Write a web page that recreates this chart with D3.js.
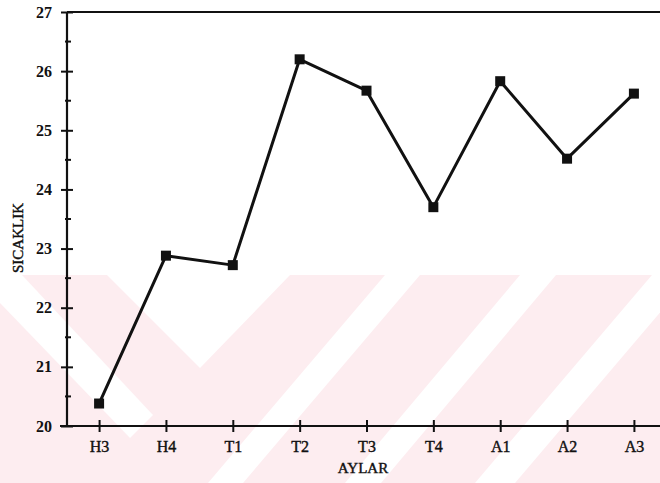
<!DOCTYPE html>
<html>
<head>
<meta charset="utf-8">
<script src="https://cdn.jsdelivr.net/npm/d3@7"></script>
<style>
  body { margin: 0; background: #fff; }
  text { font-family: "Liberation Serif", "DejaVu Serif", serif; fill: #111; }
</style>
</head>
<body>
<div id="svg-area"></div>
<script>
var svgWidth = 660;
var svgHeight = 483;

// months and temperature readings
var aylar = ["H3", "H4", "T1", "T2", "T3", "T4", "A1", "A2", "A3"];
var sicaklik = [20.38, 22.88, 22.72, 26.2, 25.67, 23.7, 25.83, 24.52, 25.62];
var yTicks = [20, 21, 22, 23, 24, 25, 26, 27];
var yMinor = [20.5, 21.5, 22.5, 23.5, 24.5, 25.5, 26.5];

var svg = d3.select("#svg-area")
  .append("svg")
  .attr("width", svgWidth)
  .attr("height", svgHeight);

// faint watermark in the lower part of the page
var wm = svg.append("g");
wm.append("rect")
  .attr("x", 0).attr("y", 275)
  .attr("width", svgWidth).attr("height", svgHeight - 275)
  .attr("fill", "#fdedf0");
var whiteShapes = [
  [[0, 275], [22, 275], [153, 415], [130, 438], [0, 303]],
  [[107, 275], [290, 275], [200, 368]],
  [[385, 275], [420, 275], [243, 483], [208, 483]],
  [[520, 275], [556, 275], [381, 483], [345, 483]],
  [[652, 275], [692, 275], [515, 483], [475, 483]]
];
wm.selectAll("polygon")
  .data(whiteShapes)
  .enter()
  .append("polygon")
  .attr("points", d => d.map(p => p.join(",")).join(" "))
  .attr("fill", "#fff");

var plotLeft = 67, plotTop = 12, plotBottom = 426;

var xScale = d3.scalePoint()
  .domain(aylar)
  .range([plotLeft, 666])
  .padding(0.48);

var yScale = d3.scaleLinear()
  .domain([20, 27])
  .range([plotBottom, plotTop]);

// frame top line
svg.append("line")
  .attr("x1", plotLeft).attr("x2", svgWidth)
  .attr("y1", plotTop).attr("y2", plotTop)
  .attr("stroke", "#111").attr("stroke-width", 2.2);

// y axis
var yAxis = svg.append("g")
  .attr("transform", "translate(" + plotLeft + ",0)")
  .call(d3.axisLeft(yScale).tickValues(yTicks).tickSize(6).tickPadding(9).tickFormat(d3.format("d")));
yAxis.select(".domain").attr("stroke", "#111").attr("stroke-width", 2.2).attr("d", "M0," + plotTop + "V" + plotBottom);
yAxis.selectAll(".tick line").attr("x1", -6).attr("x2", 6).attr("stroke", "#111").attr("stroke-width", 2);
yAxis.selectAll(".tick text")
  .attr("font-size", 16).attr("font-weight", "bold")
  .style("font-family", "'Liberation Serif', serif").attr("fill", "#111");

svg.append("g")
  .selectAll("line")
  .data(yMinor)
  .enter()
  .append("line")
  .attr("x1", plotLeft - 2).attr("x2", plotLeft + 4)
  .attr("y1", d => yScale(d)).attr("y2", d => yScale(d))
  .attr("stroke", "#111").attr("stroke-width", 2);

// x axis
var xAxis = svg.append("g")
  .attr("transform", "translate(0," + plotBottom + ")")
  .call(d3.axisBottom(xScale).tickSize(6).tickPadding(9));
xAxis.select(".domain").attr("stroke", "#111").attr("stroke-width", 2.2).attr("d", "M" + (plotLeft - 7) + ",0H" + svgWidth);
xAxis.selectAll(".tick line").attr("y1", -6).attr("y2", 6).attr("stroke", "#111").attr("stroke-width", 2);
xAxis.selectAll(".tick text")
  .attr("font-size", 16)
  .attr("stroke", "#111").attr("stroke-width", 0.4)
  .style("font-family", "'Liberation Serif', serif").attr("fill", "#111");

// axis titles
svg.append("text")
  .attr("x", 363).attr("y", 473)
  .attr("text-anchor", "middle")
  .attr("font-size", 15)
  .attr("stroke", "#111").attr("stroke-width", 0.4)
  .text("AYLAR");

svg.append("text")
  .attr("transform", "translate(23,238) rotate(-90)")
  .attr("text-anchor", "middle")
  .attr("font-size", 15)
  .attr("stroke", "#111").attr("stroke-width", 0.4)
  .text("SICAKLIK");

// line and markers
var lineGenerator = d3.line()
  .x((d, i) => xScale(aylar[i]))
  .y(d => yScale(d));

svg.append("path")
  .attr("fill", "none")
  .attr("stroke", "#111")
  .attr("stroke-width", 3)
  .attr("stroke-linejoin", "round")
  .attr("d", lineGenerator(sicaklik));

svg.selectAll(".marker")
  .data(sicaklik)
  .enter()
  .append("rect")
  .attr("class", "marker")
  .attr("x", (d, i) => xScale(aylar[i]) - 5)
  .attr("y", d => yScale(d) - 5)
  .attr("width", 10)
  .attr("height", 10)
  .attr("fill", "#111");
</script>
</body>
</html>
